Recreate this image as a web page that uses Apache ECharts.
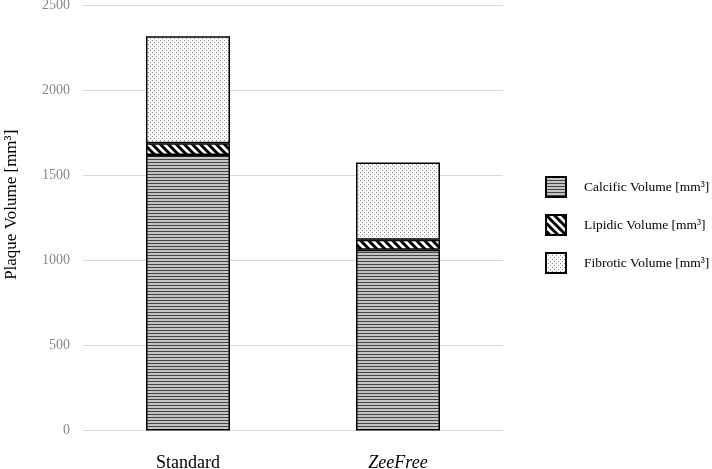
<!DOCTYPE html>
<html>
<head>
<meta charset="utf-8">
<script src="https://cdn.jsdelivr.net/npm/echarts@6/dist/echarts.min.js"></script>
<style>
  html, body { margin: 0; padding: 0; background: #fff; }
  #chart { width: 712px; height: 469px; }
</style>
</head>
<body>
<div id="chart"></div>
<script>
// data
const categories = ['Standard', 'ZeeFree'];
const calcific = [1618, 1062];
const lipidic = [70, 59];
const fibrotic = [628, 454];
const yTicks = [0, 500, 1000, 1500, 2000, 2500];

// fill patterns
function makePattern(w, h, draw) {
  const c = document.createElement('canvas');
  c.width = w; c.height = h;
  const ctx = c.getContext('2d');
  draw(ctx, w, h);
  return { image: c, repeat: 'repeat' };
}

const hLines = makePattern(8, 3, function (ctx, w, h) {
  ctx.fillStyle = '#c4c4c4';
  ctx.fillRect(0, 0, w, h);
  ctx.fillStyle = '#444';
  ctx.fillRect(0, 0, w, 1);
});

const diag = makePattern(8, 8, function (ctx, w, h) {
  ctx.fillStyle = '#fff';
  ctx.fillRect(0, 0, w, h);
  ctx.strokeStyle = '#000';
  ctx.lineWidth = 3;
  for (let k = -1; k <= 1; k++) {
    ctx.beginPath();
    ctx.moveTo(k * 8 - 1, -1);
    ctx.lineTo(k * 8 + 9, 9);
    ctx.stroke();
  }
});

const dots = makePattern(4, 4, function (ctx, w, h) {
  ctx.fillStyle = '#fff';
  ctx.fillRect(0, 0, w, h);
  ctx.fillStyle = '#8a8a8a';
  ctx.fillRect(0, 0, 1, 1);
  ctx.fillRect(2, 2, 1, 1);
});

const serif = '"Liberation Serif", "DejaVu Serif", serif';

const chart = echarts.init(document.getElementById('chart'));

function barSeries(name, data, fill) {
  return {
    name: name,
    type: 'bar',
    stack: 'total',
    barWidth: '40%',
    data: data,
    itemStyle: { color: fill, borderColor: '#000', borderWidth: 1.5 }
  };
}

const option = {
  animation: false,
  grid: { left: 83, right: 209, top: 5, bottom: 38.5, outerBoundsMode: 'none' },
  legend: {
    orient: 'vertical',
    left: 540,
    top: 171,
    icon: 'rect',
    itemWidth: 20,
    itemHeight: 20,
    itemGap: 16,
    textStyle: { fontFamily: serif, fontSize: 13.5, color: '#000', padding: [0, 0, 0, 13] },
    data: ['Calcific Volume [mm³]', 'Lipidic Volume [mm³]', 'Fibrotic Volume [mm³]']
  },
  xAxis: {
    type: 'category',
    data: categories,
    axisLine: { show: false },
    axisTick: { show: false },
    axisLabel: {
      margin: 24,
      fontFamily: serif,
      fontSize: 18,
      color: '#000',
      formatter: function (v) { return v === 'ZeeFree' ? '{it|' + v + '}' : v; },
      rich: { it: { fontFamily: serif, fontSize: 18, fontStyle: 'italic', color: '#000' } }
    }
  },
  yAxis: {
    type: 'value',
    min: yTicks[0],
    max: yTicks[yTicks.length - 1],
    interval: 500,
    name: 'Plaque Volume [mm³]',
    nameLocation: 'middle',
    nameGap: 63,
    nameTextStyle: { fontFamily: serif, fontSize: 17, color: '#000', padding: [0, 0, 0, 26] },
    axisLine: { show: false },
    axisTick: { show: false },
    axisLabel: {
      fontFamily: serif, fontSize: 14, color: '#888', margin: 13,
      formatter: function (v) { return String(v); }
    },
    splitLine: { lineStyle: { color: '#d9d9d9', width: 1 } }
  },
  series: [
    barSeries('Calcific Volume [mm³]', calcific, hLines),
    barSeries('Lipidic Volume [mm³]', lipidic, diag),
    barSeries('Fibrotic Volume [mm³]', fibrotic, dots)
  ]
};

chart.setOption(option);
</script>
</body>
</html>
